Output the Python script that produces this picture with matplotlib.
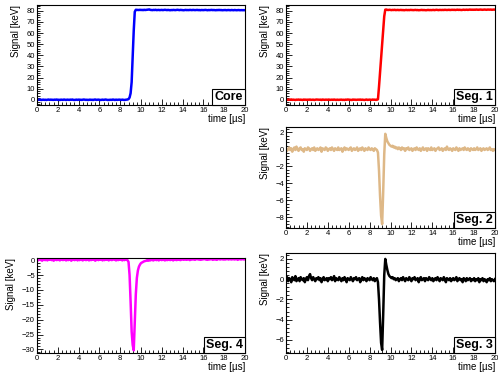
import numpy as np
import matplotlib
matplotlib.use("Agg")
import matplotlib.pyplot as plt
from matplotlib.ticker import MultipleLocator, AutoMinorLocator

plt.rcParams['font.family'] = ['Liberation Sans', 'DejaVu Sans']

# sampling grid of the digitised waveforms (0.1 us steps)
time_us = np.linspace(0, 20, 201)

core = [
    0.3, 0.1, 0.2, 0.4, 0.0, 0.2, 0.3, 0.1, 0.2, 0.0,
    0.2, 0.4, 0.1, 0.3, 0.2, 0.0, 0.1, 0.3, 0.2, 0.4,
    0.1, 0.2, 0.0, 0.3, 0.2, 0.1, 0.4, 0.2, 0.0, 0.3,
    0.2, 0.1, 0.3, 0.2, 0.4, 0.1, 0.0, 0.2, 0.3, 0.1,
    0.3, 0.2, 0.0, 0.1, 0.3, 0.4, 0.2, 0.1, 0.2, 0.0,
    0.2, 0.3, 0.1, 0.2, 0.0, 0.3, 0.4, 0.1, 0.2, 0.3,
    0.1, 0.0, 0.2, 0.3, 0.1, 0.2, 0.4, 0.2, 0.0, 0.1,
    0.3, 0.2, 0.1, 0.4, 0.2, 0.0, 0.3, 0.1, 0.2, 0.3,
    0.2, 0.1, 0.3, 0.2, 0.0, 0.2, 0.3, 0.4, 0.8, 2.2,
    6.0, 16.0, 38.0, 62.0, 79.0, 80.8, 80.7, 80.5, 80.6, 80.8,
    80.6, 80.7, 80.5, 80.8, 80.6, 80.7, 80.9, 80.8, 81.1, 80.7,
    80.6, 80.5, 80.7, 80.6, 80.8, 80.5, 80.6, 80.7, 80.5, 80.6,
    80.7, 80.5, 80.6, 80.8, 80.6, 80.5, 80.7, 80.6, 80.4, 80.6,
    80.5, 80.7, 80.6, 80.5, 80.6, 80.8, 80.6, 80.5, 80.7, 80.6,
    80.6, 80.4, 80.6, 80.7, 80.5, 80.6, 80.5, 80.7, 80.6, 80.5,
    80.7, 80.6, 80.5, 80.6, 80.7, 80.5, 80.6, 80.4, 80.6, 80.5,
    80.5, 80.6, 80.7, 80.5, 80.4, 80.6, 80.5, 80.6, 80.7, 80.5,
    80.6, 80.5, 80.4, 80.6, 80.5, 80.7, 80.5, 80.6, 80.4, 80.5,
    80.5, 80.6, 80.4, 80.5, 80.6, 80.5, 80.4, 80.6, 80.5, 80.4,
    80.6, 80.5, 80.4, 80.5, 80.6, 80.4, 80.5, 80.5, 80.4, 80.5,
    80.4,
]

seg1 = [
    0.2, 0.4, 0.1, 0.3, 0.2, 0.5, 0.1, 0.3, 0.2, 0.0,
    0.3, 0.2, 0.4, 0.1, 0.3, 0.2, 0.0, 0.4, 0.2, 0.3,
    0.1, 0.3, 0.2, 0.4, 0.1, 0.2, 0.3, 0.0, 0.2, 0.4,
    0.3, 0.1, 0.2, 0.3, 0.0, 0.4, 0.2, 0.1, 0.3, 0.2,
    0.2, 0.4, 0.1, 0.2, 0.3, 0.1, 0.4, 0.2, 0.0, 0.3,
    0.1, 0.2, 0.4, 0.3, 0.1, 0.2, 0.0, 0.3, 0.2, 0.4,
    0.3, 0.1, 0.2, 0.0, 0.4, 0.2, 0.3, 0.1, 0.2, 0.3,
    0.2, 0.4, 0.1, 0.3, 0.2, 0.0, 0.2, 0.4, 0.1, 0.2,
    0.3, 0.2, 0.1, 0.4, 0.2, 0.3, 0.1, 0.2, 0.6, 12.0,
    25.0, 37.0, 50.0, 62.0, 75.0, 80.9, 81.0, 80.7, 80.6, 80.8,
    80.6, 80.5, 80.7, 80.6, 80.8, 80.5, 80.6, 80.7, 80.5, 80.6,
    80.7, 80.5, 80.6, 80.4, 80.6, 80.7, 80.5, 80.6, 80.5, 80.7,
    80.6, 80.4, 80.5, 80.6, 80.7, 80.5, 80.6, 80.4, 80.5, 80.6,
    80.7, 80.5, 80.6, 80.5, 80.4, 80.6, 80.7, 80.5, 80.6, 80.5,
    80.6, 80.7, 80.5, 80.6, 80.8, 80.6, 80.5, 80.7, 80.6, 80.6,
    80.7, 80.6, 80.8, 80.7, 80.6, 80.7, 80.8, 80.6, 80.7, 80.8,
    80.7, 80.8, 80.6, 80.7, 80.9, 80.7, 80.8, 80.7, 80.6, 80.8,
    80.9, 80.7, 80.8, 80.9, 80.7, 80.8, 81.0, 80.8, 80.9, 80.8,
    80.9, 80.8, 81.0, 80.9, 80.8, 80.9, 81.0, 80.9, 80.8, 80.9,
    81.0, 80.9, 80.8, 81.0, 80.9, 80.9, 81.0, 80.8, 80.9, 81.0,
    80.9,
]

seg2 = [
    0.1, -0.2, 0.0, 0.2, -0.1, 0.1, -0.3, 0.0, 0.2, -0.1,
    0.3, 0.0, -0.2, 0.1, 0.2, -0.1, 0.0, -0.3, 0.1, 0.0,
    -0.1, 0.2, 0.1, -0.2, 0.0, 0.1, -0.1, 0.2, -0.2, 0.0,
    0.1, -0.1, 0.0, 0.2, -0.3, 0.1, 0.0, -0.1, 0.2, 0.1,
    -0.2, 0.0, 0.1, -0.1, 0.2, 0.0, -0.2, 0.1, 0.0, -0.1,
    0.2, -0.1, 0.0, 0.1, -0.3, 0.0, 0.2, -0.1, 0.1, 0.0,
    -0.1, 0.1, 0.2, -0.2, 0.0, 0.1, -0.1, 0.0, 0.2, -0.2,
    0.0, 0.1, -0.1, 0.2, 0.0, -0.2, 0.1, 0.0, -0.1, 0.2,
    0.0, -0.1, 0.1, 0.0, -0.2, 0.1, 0.0, -0.1, -0.4, -2.5,
    -5.5, -7.8, -8.8, -5.0, -0.6, 1.8, 1.3, 0.9, 0.7, 0.5,
    0.4, 0.3, 0.4, 0.2, 0.3, 0.1, 0.2, 0.0, 0.2, 0.1,
    -0.1, 0.2, 0.0, 0.1, -0.2, 0.1, 0.0, 0.2, -0.1, 0.0,
    0.1, -0.2, 0.0, 0.1, -0.1, 0.2, 0.0, -0.1, 0.1, -0.2,
    0.0, 0.2, -0.1, 0.0, 0.1, -0.2, 0.1, 0.0, -0.1, 0.2,
    -0.1, 0.0, 0.1, -0.2, 0.0, 0.1, 0.2, -0.1, 0.0, 0.1,
    -0.2, 0.0, 0.1, -0.1, 0.3, 0.0, -0.1, 0.1, 0.0, -0.2,
    0.1, 0.0, -0.1, 0.2, 0.0, -0.2, 0.1, -0.1, 0.0, 0.1,
    -0.1, 0.2, 0.0, -0.1, 0.1, 0.0, -0.2, 0.1, 0.0, -0.1,
    0.1, -0.1, 0.0, 0.2, -0.1, 0.0, 0.1, -0.2, 0.0, 0.1,
    -0.1, 0.0, 0.1, -0.1, 0.0, 0.2, -0.1, 0.0, -0.2, 0.0,
    -0.1,
]

seg4 = [
    0.3, -0.1, 0.2, 0.4, 0.0, -0.2, 0.3, 0.1, 0.0, 0.2,
    -0.1, 0.3, 0.1, 0.4, 0.0, 0.2, -0.2, 0.1, 0.3, 0.0,
    0.2, 0.1, -0.1, 0.3, 0.2, 0.0, 0.4, 0.1, -0.1, 0.2,
    0.0, 0.3, 0.1, -0.2, 0.2, 0.4, 0.0, 0.1, 0.3, -0.1,
    0.2, 0.0, 0.3, 0.1, -0.1, 0.2, 0.4, 0.0, 0.1, 0.3,
    -0.1, 0.2, 0.0, 0.3, 0.1, 0.2, -0.2, 0.1, 0.3, 0.0,
    0.2, 0.1, 0.3, -0.1, 0.2, 0.0, 0.4, 0.1, 0.2, -0.1,
    0.3, 0.1, 0.0, 0.2, 0.4, 0.1, -0.1, 0.2, 0.0, 0.3,
    0.1, 0.2, -0.1, 0.3, 0.0, 0.2, 0.1, 0.0, -0.6, -5.0,
    -14.0, -24.0, -28.5, -30.3, -21.0, -11.5, -6.0, -3.5, -2.2, -1.5,
    -1.0, -0.8, -0.6, -0.4, -0.3, -0.2, 0.0, -0.2, 0.1, -0.1,
    0.2, 0.0, -0.1, 0.2, 0.1, 0.0, 0.3, -0.1, 0.1, 0.2,
    0.0, 0.3, 0.1, -0.1, 0.2, 0.0, 0.1, 0.3, 0.0, 0.2,
    0.1, -0.1, 0.3, 0.2, 0.0, 0.1, 0.3, 0.1, 0.0, 0.2,
    0.3, 0.1, 0.2, 0.4, 0.1, 0.3, 0.2, 0.0, 0.3, 0.2,
    0.4, 0.2, 0.1, 0.3, 0.5, 0.2, 0.3, 0.1, 0.4, 0.2,
    0.3, 0.5, 0.2, 0.4, 0.1, 0.3, 0.2, 0.4, 0.3, 0.1,
    0.3, 0.2, 0.4, 0.1, 0.3, 0.5, 0.2, 0.3, 0.4, 0.2,
    0.4, 0.2, 0.3, 0.5, 0.2, 0.4, 0.3, 0.2, 0.4, 0.3,
    0.2, 0.4, 0.3, 0.1, 0.3, 0.4, 0.2, 0.3, 0.4, 0.2,
    0.3,
]

seg3 = [
    -0.1, 0.2, -0.2, 0.1, 0.0, -0.3, 0.2, 0.0, -0.1, 0.3,
    -0.2, 0.0, 0.1, -0.2, 0.2, 0.0, -0.1, 0.1, -0.3, 0.0,
    0.2, -0.1, 0.3, 0.5, 0.1, -0.1, 0.2, 0.0, -0.2, 0.1,
    0.0, 0.2, -0.1, 0.1, -0.3, 0.0, 0.2, -0.1, 0.0, 0.1,
    -0.2, 0.1, 0.0, 0.2, -0.1, 0.0, 0.3, -0.2, 0.1, 0.0,
    -0.1, 0.2, 0.0, -0.2, 0.1, -0.1, 0.2, 0.0, -0.3, 0.1,
    0.0, -0.1, 0.2, 0.0, -0.2, 0.1, 0.0, 0.2, -0.1, 0.0,
    0.1, -0.3, 0.0, 0.2, -0.1, 0.1, 0.0, -0.2, 0.1, 0.0,
    -0.1, 0.2, 0.0, -0.1, 0.1, -0.2, 0.0, 0.1, -0.3, -2.0,
    -4.3, -6.3, -7.0, -3.5, 0.4, 2.0, 1.4, 0.9, 0.5, 0.3,
    0.2, 0.1, 0.2, 0.0, 0.1, -0.1, 0.0, 0.1, -0.2, 0.0,
    0.1, -0.1, 0.2, 0.0, -0.2, 0.1, 0.0, -0.1, 0.2, 0.0,
    -0.2, 0.1, 0.0, 0.2, -0.1, 0.0, 0.1, -0.3, 0.0, 0.2,
    -0.1, 0.0, 0.1, -0.2, 0.1, 0.0, -0.1, 0.2, 0.0, -0.1,
    0.1, -0.2, 0.0, 0.1, -0.1, 0.2, 0.0, -0.2, 0.1, 0.0,
    -0.1, 0.2, 0.0, -0.3, 0.1, 0.0, -0.1, 0.1, -0.2, 0.0,
    0.1, -0.1, 0.0, 0.2, -0.2, 0.0, 0.1, -0.1, 0.0, -0.3,
    0.1, 0.0, -0.2, 0.1, -0.1, 0.0, 0.1, -0.2, 0.0, -0.1,
    0.1, -0.2, 0.0, -0.1, 0.1, -0.3, 0.0, -0.1, 0.1, -0.2,
    0.0, -0.1, -0.3, 0.0, -0.1, 0.1, -0.2, 0.0, -0.1, -0.2,
    0.0,
]

# name, values, colour, y range, y major step, [left, bottom, width, height]
panels = [
    ("Core", core, "#0000ff", (-4.5, 85.1), 10, [0.0743, 0.720, 0.4177, 0.2667]),
    ("Seg. 1", seg1, "#ff0000", (-4.5, 85.1), 10, [0.5743, 0.720, 0.4197, 0.2667]),
    ("Seg. 2", seg2, "#deb887", (-9.26, 2.6), 2, [0.5743, 0.392, 0.4197, 0.2693]),
    ("Seg. 4", seg4, "#ff00ff", (-31.2, 0.8), 5, [0.0743, 0.0587, 0.4177, 0.2540]),
    ("Seg. 3", seg3, "#000000", (-7.3, 2.56), 2, [0.5743, 0.0587, 0.4197, 0.2659]),
]

fig = plt.figure(figsize=(4.98, 3.75), dpi=100)

for name, values, color, ylim, ystep, pos in panels:
    ax = fig.add_axes(pos)
    ax.plot(time_us, values, color=color, lw=1.8)
    ax.set_xlim(0, 20)
    ax.set_ylim(*ylim)
    ax.xaxis.set_major_locator(MultipleLocator(2))
    ax.xaxis.set_minor_locator(AutoMinorLocator(5))
    ax.yaxis.set_major_locator(MultipleLocator(ystep))
    ax.yaxis.set_minor_locator(AutoMinorLocator(5))
    ax.tick_params(which="both", direction="in", top=False, right=False,
                   labelsize=5.5, pad=1.5, width=0.6)
    ax.tick_params(which="major", length=4)
    ax.tick_params(which="minor", length=2)
    for sp in ax.spines.values():
        sp.set_linewidth(0.8)
    ax.set_xlabel("time [µs]", loc="right", fontsize=7, labelpad=0)
    ax.set_ylabel("Signal [keV]", loc="top", fontsize=7, labelpad=4)
    ax.annotate(name, xy=(1, 0), xycoords="axes fraction",
                xytext=(-1.6, 1.6), textcoords="offset points",
                ha="right", va="bottom", fontsize=9, fontweight="bold",
                bbox=dict(boxstyle="square,pad=0.18", fc="white",
                          ec="black", lw=0.8))

fig.savefig("out.png", dpi=100)
